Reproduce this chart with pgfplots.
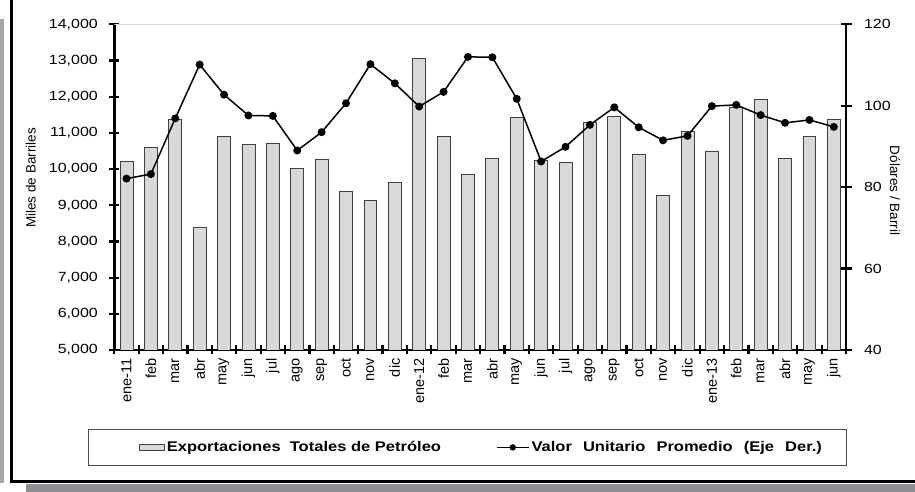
\documentclass[border=0pt]{standalone}
\usepackage{pgfplots}
\pgfplotsset{compat=1.18}
\usepackage{fontspec}
\setmainfont{Liberation Sans}
\newfontfamily\widefont{Liberation Sans}[FakeStretch=1.2]
\newfontfamily\legfont{Liberation Sans}[FakeStretch=1.18]

\definecolor{barfill}{HTML}{D9D9D9}
\definecolor{frameband}{HTML}{A4A4AC}
\definecolor{shadowc}{HTML}{8E8E94}

\pgfplotsset{
  barleg/.style={legend image code/.code={\path (0bp,0bp); \draw[##1] (41bp,-3bp) rectangle (66bp,3bp);}},
  lineleg/.style={legend image code/.code={\draw[mark repeat=2,mark phase=2,##1,mark size=2.4bp] plot coordinates {(0bp,0bp) (16bp,0bp) (32bp,0bp)};}},
}

\begin{document}
\begin{tikzpicture}[x=1bp,y=1bp]
\path[use as bounding box] (0,0) rectangle (915,492);
% decorative frame
\fill[frameband] (0,9) rectangle (3.5,473);
\fill[shadowc] (26,0) rectangle (915,8);
\draw[line width=3bp] (11.5,492) -- (11.5,10) -- (915,10);

\begin{axis}[
  at={(114.3bp,142bp)}, anchor=south west,
  scale only axis, width=731.7bp, height=325.7bp,
  xmin=-0.5, xmax=29.5, ymin=5000, ymax=14000,
  axis x line*=bottom, axis y line*=left,
  axis line style={line width=2.8bp,-},
  xtick={0,...,29},
  xticklabels={ene-11,feb,mar,abr,may,jun,jul,ago,sep,oct,nov,dic,ene-12,feb,mar,abr,may,jun,jul,ago,sep,oct,nov,dic,ene-13,feb,mar,abr,may,jun},
  minor xtick={-0.5,0.5,...,29.5},
  tick style={line width=2.2bp,black},
  major x tick style={draw=none},
  minor tick length=9bp,
  xtick align=center,
  ytick={5000,6000,...,14000},
  scaled y ticks=false,
  ytick align=center,
  major tick length=10bp,
  xticklabel style={rotate=90,anchor=east,font=\fontsize{14.5bp}{16bp}\selectfont},
  yticklabel style={font=\widefont\fontsize{13.3bp}{15bp}\selectfont, xshift=-8bp},
  ylabel={Miles de Barriles},
  ylabel style={at={(axis description cs:-0.114,0.528)},anchor=center,font=\fontsize{13.5bp}{15bp}\selectfont},
  /pgf/number format/fixed,
  /pgf/number format/1000 sep={,},
  /pgf/number format/assume math mode=true,
]
\draw[black!15,line width=1bp] (rel axis cs:0,1) -- (rel axis cs:1,1);
\addplot[ybar, bar width=0.53, bar shift=0pt, fill=barfill, draw=black!75, line width=0.8bp] coordinates {
(0,10220) (1,10590) (2,11380) (3,8400) (4,10910) (5,10680) (6,10720) (7,10010) (8,10280) (9,9370)
(10,9120) (11,9620) (12,13050) (13,10900) (14,9860) (15,10300) (16,11420) (17,10250) (18,10170) (19,11280)
(20,11450) (21,10410) (22,9280) (23,11040) (24,10500) (25,11700) (26,11930) (27,10300) (28,10900) (29,11380)
};
\end{axis}

\begin{axis}[
  at={(114.3bp,142bp)}, anchor=south west,
  scale only axis, width=731.7bp, height=325.7bp,
  xmin=-0.5, xmax=29.5, ymin=40, ymax=120,
  axis x line=none, axis y line*=right,
  axis line style={line width=2.8bp,-},
  ytick={40,60,...,120},
  ytick align=center,
  major tick length=11bp,
  tick style={line width=2.2bp,black},
  yticklabel style={font=\widefont\fontsize{13.3bp}{15bp}\selectfont, xshift=9bp},
  ylabel={Dólares / Barril},
  ylabel style={at={(axis description cs:1.067,0.49)},anchor=center,rotate=180,font=\fontsize{13.5bp}{15bp}\selectfont},
  /pgf/number format/assume math mode=true,
  legend columns=2,
  legend style={at={(0.482,-0.299)}, anchor=center, draw=black!70, line width=0.8bp,
    inner xsep=10bp, inner ysep=10bp,
    font=\legfont\bfseries\fontsize{14bp}{16bp}\selectfont,
    /tikz/every even column/.append style={column sep=53bp}},
]
\addlegendimage{barleg, fill=barfill, draw=black!75, line width=0.8bp}
\addlegendentry{Exportaciones\ \ Totales de Petróleo}
\addplot[black, line width=1.5bp, mark=*, mark size=3.2bp, lineleg] coordinates {
(0,82.1) (1,83.2) (2,96.9) (3,110.1) (4,102.7) (5,97.6) (6,97.5) (7,89.0) (8,93.5) (9,100.6)
(10,110.2) (11,105.5) (12,99.8) (13,103.4) (14,112.0) (15,111.9) (16,101.7) (17,86.3) (18,89.9) (19,95.3)
(20,99.6) (21,94.7) (22,91.5) (23,92.6) (24,99.9) (25,100.2) (26,97.7) (27,95.8) (28,96.5) (29,94.8)
};
\addlegendentry{Valor\hspace{6.5bp} Unitario\hspace{6.5bp} Promedio\hspace{6.5bp} (Eje\hspace{6.5bp} Der.)\hspace*{12bp}}
\end{axis}
\end{tikzpicture}
\end{document}
